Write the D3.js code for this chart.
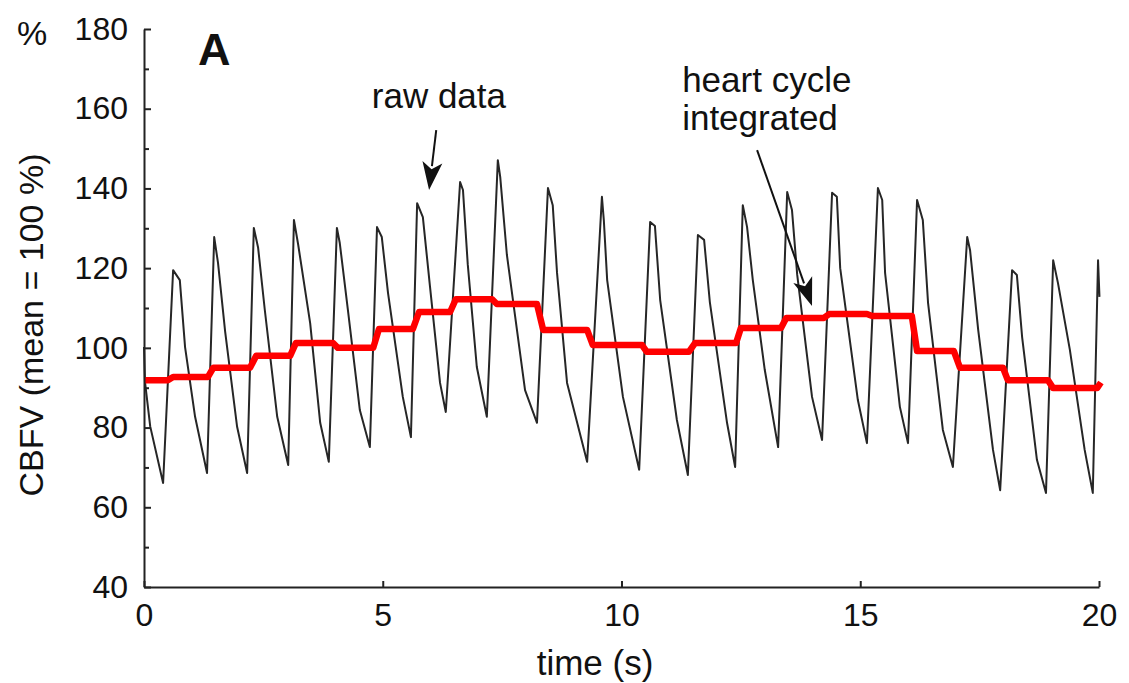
<html>
<script src="https://d3js.org/d3.v7.min.js"></script>
<style>
    body { margin: 0; background: #fff; }
    text { font-family: "Liberation Sans", Arial, Helvetica, sans-serif; fill: #111; }
</style>
<body>
<svg id="visual" width="1129" height="683"></svg>
<script>
    // ticks
    const xTicks = [0, 5, 10, 15, 20];
    const yTicks = [40, 60, 80, 100, 120, 140, 160, 180];
    const yMinor = [50, 70, 90, 110, 130, 150, 170];

    // raw CBFV trace (time in s, value in %)
    const startT = [0.00, 0.02, 0.13];
    const startV = [100.2, 91.5, 80.3];
    // trough before each beat
    const troughT = [0.40, 1.32, 2.16, 3.02, 3.87, 4.73, 5.59, 6.32, 7.18, 8.23, 9.28,
                     10.37, 11.39, 12.38, 13.28, 14.20, 15.14, 16.00, 16.94, 17.93, 18.89, 19.87];
    const troughV = [66.1, 68.6, 68.6, 70.6, 71.4, 75.1, 77.6, 83.9, 82.7, 81.2, 71.4,
                     69.4, 68.1, 70.1, 75.1, 76.9, 76.1, 76.1, 70.1, 64.3, 63.6, 63.6];
    // systolic peak
    const peakT = [0.61, 1.47, 2.30, 3.14, 4.04, 4.88, 5.72, 6.62, 7.41, 8.46, 9.59,
                   10.60, 11.60, 12.54, 13.47, 14.41, 15.37, 16.19, 17.24, 18.18, 19.04, 19.98];
    const peakV = [119.5, 127.8, 130.1, 132.1, 130.1, 130.3, 136.3, 141.6, 147.1, 140.1, 137.9,
                   131.6, 128.3, 135.8, 139.1, 138.9, 140.1, 137.1, 127.8, 119.5, 122.0, 122.0];
    // shoulder just after the peak
    const bumpT = [0.75, 1.55, 2.39, 3.23, 4.10, 4.98, 5.84, 6.68, 7.46, 8.56, 9.63,
                   10.70, 11.73, 12.63, 13.57, 14.51, 15.46, 16.31, 17.30, 18.28, 19.14];
    const bumpV = [117.0, 121.3, 125.1, 125.8, 126.3, 127.8, 132.8, 139.6, 142.9, 135.8, 132.0,
                   130.6, 127.1, 130.3, 134.6, 137.9, 137.1, 132.1, 124.5, 118.3, 116.3];
    // dicrotic notch
    const notchT = [0.86, 1.70, 2.53, 3.48, 4.27, 5.11, 5.99, 6.78, 7.60, 8.65, 9.70,
                    10.81, 11.85, 12.75, 13.68, 14.58, 15.52, 16.42, 17.47, 18.39, 19.39];
    const notchV = [100.2, 104.0, 109.5, 106.2, 109.5, 113.8, 115.3, 121.0, 123.3, 118.8, 117.0,
                    112.0, 111.5, 117.0, 118.3, 120.0, 118.8, 111.3, 104.5, 102.7, 99.5];
    // knee on the diastolic decline
    const kneeT = [1.07, 1.95, 2.79, 3.69, 4.52, 5.42, 6.20, 6.97, 7.98, 8.86, 10.03,
                   11.16, 12.21, 13.00, 13.99, 14.95, 15.83, 16.73, 17.78, 18.70, 19.70];
    const kneeV = [82.7, 80.2, 82.7, 81.2, 84.4, 87.7, 91.2, 95.2, 89.4, 91.2, 87.7,
                   81.9, 81.2, 94.5, 87.7, 86.9, 85.2, 79.4, 74.4, 71.9, 74.4];
    const endT = [20.01];
    const endV = [112.8];

    // heart cycle integrated (red steps)
    const stepStart = [0.00, 0.61, 1.45, 2.35, 3.18, 4.06, 4.92, 5.76, 6.53, 7.39, 8.36,
                       9.40, 10.53, 11.54, 12.50, 13.45, 14.35, 15.25, 16.19, 17.09, 18.09, 19.04];
    const stepEnd = [0.50, 1.34, 2.22, 3.06, 3.96, 4.80, 5.63, 6.41, 7.29, 8.23, 9.28,
                     10.43, 11.41, 12.40, 13.34, 14.24, 15.14, 16.08, 16.96, 17.99, 18.93, 19.96];
    const stepV = [91.9, 92.7, 95.0, 98.0, 101.2, 100.0, 104.7, 109.0, 112.2, 111.0, 104.5,
                   100.7, 99.0, 101.2, 105.0, 107.5, 108.5, 108.0, 99.2, 95.0, 91.9, 89.9];
    const stepEndT = 20.04, stepEndV = 91.3;

    const svg = d3.select("#visual");
    const x = d3.scaleLinear().domain([0, 20]).range([144, 1099]);
    const y = d3.scaleLinear().domain([40, 180]).range([587, 29]);

    // build the raw trace point list
    var raw = [];
    startT.forEach((t, i) => raw.push([t, startV[i]]));
    for (var i = 0; i < troughT.length; i++) {
        raw.push([troughT[i], troughV[i]]);
        raw.push([peakT[i], peakV[i]]);
        if (i < bumpT.length) {
            raw.push([bumpT[i], bumpV[i]]);
            raw.push([notchT[i], notchV[i]]);
            raw.push([kneeT[i], kneeV[i]]);
        }
    }
    endT.forEach((t, i) => raw.push([t, endV[i]]));

    var steps = [];
    stepV.forEach((v, i) => { steps.push([stepStart[i], v]); steps.push([stepEnd[i], v]); });
    steps.push([stepEndT, stepEndV]);

    const line = d3.line().x(d => x(d[0])).y(d => y(d[1]));

    svg.append("path")
        .attr("d", line(raw))
        .attr("fill", "none")
        .attr("stroke", "#262626")
        .attr("stroke-width", 2)
        .attr("stroke-linejoin", "round");

    svg.append("path")
        .attr("d", line(steps))
        .attr("fill", "none")
        .attr("stroke", "#ff0000")
        .attr("stroke-width", 6.5)
        .attr("stroke-linejoin", "round");

    // axes
    const yAxis = svg.append("g")
        .attr("transform", "translate(" + x(0) + ",0)")
        .call(d3.axisLeft(y).tickValues(yTicks).tickSize(-7).tickSizeOuter(0).tickPadding(16));
    svg.append("g")
        .attr("transform", "translate(" + x(0) + ",0)")
        .call(d3.axisLeft(y).tickValues(yMinor).tickSize(-5).tickSizeOuter(0).tickFormat(""))
        .select(".domain").remove();
    const xAxis = svg.append("g")
        .attr("transform", "translate(0," + y(40) + ")")
        .call(d3.axisBottom(x).tickValues(xTicks).tickSize(-6).tickSizeOuter(0).tickPadding(16));

    svg.selectAll(".domain").attr("stroke", "#222").attr("stroke-width", 2);
    svg.selectAll(".tick line").attr("stroke", "#222").attr("stroke-width", 2);
    svg.selectAll(".tick text")
        .attr("font-size", 32)
        .attr("font-family", "'Liberation Sans', Arial, sans-serif")
        .attr("fill", "#111");

    // axis titles
    svg.append("text")
        .attr("transform", "translate(43," + 325 + ") rotate(-90)")
        .attr("text-anchor", "middle")
        .attr("font-size", 34)
        .text("CBFV (mean = 100 %)");
    svg.append("text")
        .attr("x", 17).attr("y", 45)
        .attr("font-size", 34)
        .text("%");
    svg.append("text")
        .attr("x", 595).attr("y", 675)
        .attr("text-anchor", "middle")
        .attr("font-size", 35)
        .text("time (s)");

    // panel letter and annotations
    svg.append("text")
        .attr("x", x(1.13)).attr("y", y(171))
        .attr("font-size", 45)
        .attr("font-weight", "bold")
        .text("A");
    svg.append("text")
        .attr("x", x(4.77)).attr("y", y(160.2))
        .attr("font-size", 35)
        .text("raw data");
    svg.append("text")
        .attr("x", x(11.27)).attr("y", y(164.2))
        .attr("font-size", 35)
        .text("heart cycle");
    svg.append("text")
        .attr("x", x(11.27)).attr("y", y(154.7))
        .attr("font-size", 35)
        .text("integrated");

    // arrows: tail and tip in data units
    const arrows = [
        { t0: 6.12, v0: 154.6, t1: 5.97, v1: 139.6 },
        { t0: 12.84, v0: 149.6, t1: 13.99, v1: 110.5 }
    ];
    arrows.forEach(a => {
        const x0 = x(a.t0), y0 = y(a.v0), x1 = x(a.t1), y1 = y(a.v1);
        const len = Math.hypot(x1 - x0, y1 - y0);
        const ux = (x1 - x0) / len, uy = (y1 - y0) / len;
        const hl = 28, hw = 10;
        const bx = x1 - ux * hl, by = y1 - uy * hl;
        svg.append("line")
            .attr("x1", x0).attr("y1", y0).attr("x2", bx + ux * 4).attr("y2", by + uy * 4)
            .attr("stroke", "#111").attr("stroke-width", 2);
        svg.append("path")
            .attr("d", "M" + x1 + "," + y1 +
                "L" + (bx - uy * hw) + "," + (by + ux * hw) +
                "L" + (x1 - ux * hl * 0.75) + "," + (y1 - uy * hl * 0.75) +
                "L" + (bx + uy * hw) + "," + (by - ux * hw) + "Z")
            .attr("fill", "#111");
    });
</script>
</body>
</html>
